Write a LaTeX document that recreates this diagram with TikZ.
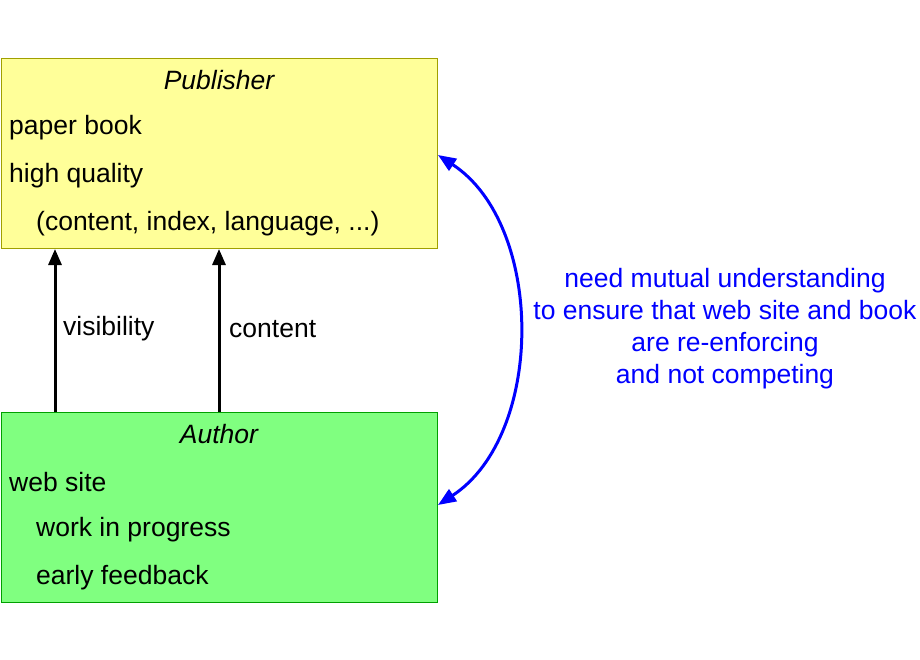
\documentclass[tikz,border=0pt]{standalone}
\usepackage{fontspec}
\setmainfont{Liberation Sans}
\usetikzlibrary{arrows.meta}
\definecolor{pubfill}{HTML}{FFFF99}
\definecolor{pubdraw}{HTML}{A0A000}
\definecolor{autfill}{HTML}{80FF80}
\definecolor{autdraw}{HTML}{00A000}
\begin{document}
\begin{tikzpicture}[x=1pt,y=-1pt,
  box/.style={draw, anchor=north west, minimum width=436pt, minimum height=190pt, inner sep=0pt},
  txt/.style={anchor=west, inner sep=0pt, font=\fontsize{26.5pt}{30pt}\selectfont},
  ctxt/.style={inner sep=0pt, font=\fontsize{26.5pt}{30pt}\selectfont},
  up/.style={line width=3pt, -{Triangle[length=16pt,width=13pt]}},
  blu/.style={blue, line width=3pt, {Triangle[length=18pt,width=14pt]}-{Triangle[length=18pt,width=14pt]}}]
\useasboundingbox (0,0) rectangle (920,660);
\node[box, fill=pubfill, draw=pubdraw] (pub) at (1,58) {};
\node[box, fill=autfill, draw=autdraw] (aut) at (1,412) {};
\node[ctxt] (pt) at (219,80) {\itshape Publisher};
\node[txt] (p1) at (9,128) {paper book};
\node[txt] (p2) at (9,176) {high quality};
\node[txt] (p3) at (36,224) {(content, index, language, ...)};
\node[ctxt] (at) at (219,434) {\itshape Author};
\node[txt] (a1) at (9,482) {web site};
\node[txt] (a2) at (36,530) {work in progress};
\node[txt] (a3) at (36,578) {early feedback};
\coordinate (v0) at (55,412); \coordinate (v1) at (55,249);
\coordinate (c0) at (219,412); \coordinate (c1) at (219,249);
\draw[up] (v0) -- (v1);
\draw[up] (c0) -- (c1);
\node[txt] (vl) at (63,329) {visibility};
\node[txt] (cl) at (229,329) {content};
\coordinate (b0) at (438,155); \coordinate (b1) at (438,505);
\draw[blu] (b0) .. controls (545,225) and (545,435) .. (b1);
\node[ctxt, blue, align=center, font=\fontsize{26.5pt}{32pt}\selectfont] (note) at (725,329) {need mutual understanding\\to ensure that web site and book\\are re-enforcing\\and not competing};
\end{tikzpicture}
\end{document}
